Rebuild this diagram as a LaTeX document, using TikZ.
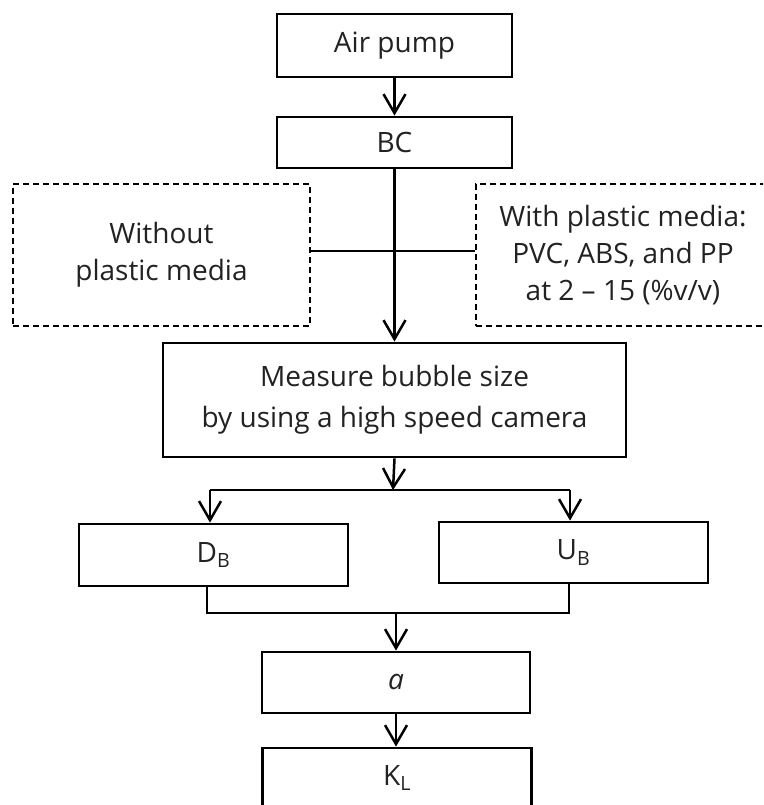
\documentclass[tikz,border=0pt]{standalone}
\usepackage{fontspec}
\setmainfont{Open Sans}
\usetikzlibrary{arrows.meta}
\definecolor{txt}{HTML}{222222}
\tikzset{
  solidbox/.style={draw=black, line width=2.8pt, inner sep=0pt, align=center, text=txt,
    font=\fontsize{28}{37}\selectfont},
  dashbox/.style={draw=black, line width=1.3pt, dash pattern=on 6pt off 4pt, inner sep=0pt,
    align=center, text=txt, font=\fontsize{28}{37}\selectfont},
  conn/.style={draw=black, line width=2.5pt},
  arr/.style={conn, -{Straight Barb[length=19pt, width=22pt, line width=2.5pt]}}
}
\begin{document}
\begin{tikzpicture}[x=1pt, y=-1pt]
\path[use as bounding box, clip] (0,0) rectangle (763,805);
\fill[white] (0,0) rectangle (763,805);

\node[solidbox, minimum width=235pt, minimum height=63pt] (pump) at (394.5,45.5) {Air pump};
\node[solidbox, minimum width=235pt, minimum height=51pt] (bc) at (394.5,142.5) {BC};
\node[dashbox, minimum width=297pt, minimum height=142pt] (without) at (161.5,255) {Without\\plastic media};
\node[dashbox, minimum width=294pt, minimum height=142pt] (with) at (623,255) {With plastic media:\\PVC, ABS, and PP\\at 2 -- 15 (\%v/v)};
\node[solidbox, minimum width=463pt, minimum height=114pt,
  font=\fontsize{28}{41}\selectfont] (meas) at (394.5,400) {Measure bubble size\\by using a high speed camera};
\node[solidbox, minimum width=269pt, minimum height=62pt] (db) at (213.5,555) {D\textsubscript{B}};
\node[solidbox, minimum width=269pt, minimum height=61pt] (ub) at (573.5,552.5) {U\textsubscript{B}};
\node[solidbox, minimum width=268pt, minimum height=61pt] (alpha) at (396,682.5) {\textit{a}};
\node[solidbox, minimum width=269pt, minimum height=60pt] (kl) at (397,778) {K\textsubscript{L}};

\coordinate (mid) at (393,251);
\coordinate (fork) at (393,490);
\coordinate (fl) at (210,490);
\coordinate (fr) at (570,490);
\coordinate (jl) at (207,613);
\coordinate (jr) at (569,613);
\coordinate (jm) at (396,613);

\draw[arr] (pump.south) -- (bc.north);
\draw[arr] (bc.south) -- (meas.north);
\draw[conn] (without.east |- mid) -- (with.west |- mid);
\draw[arr] (meas.south) -- (fork);
\draw[conn] (fl) -- (fr);
\draw[arr] (fl) -- (fl |- db.north);
\draw[arr] (fr) -- (fr |- ub.north);
\draw[conn] (jl |- db.south) -- (jl) -- (jr) -- (jr |- ub.south);
\draw[arr] (jm) -- (alpha.north);
\draw[arr] (alpha.south) -- (alpha.south |- kl.north);
\end{tikzpicture}
\end{document}
